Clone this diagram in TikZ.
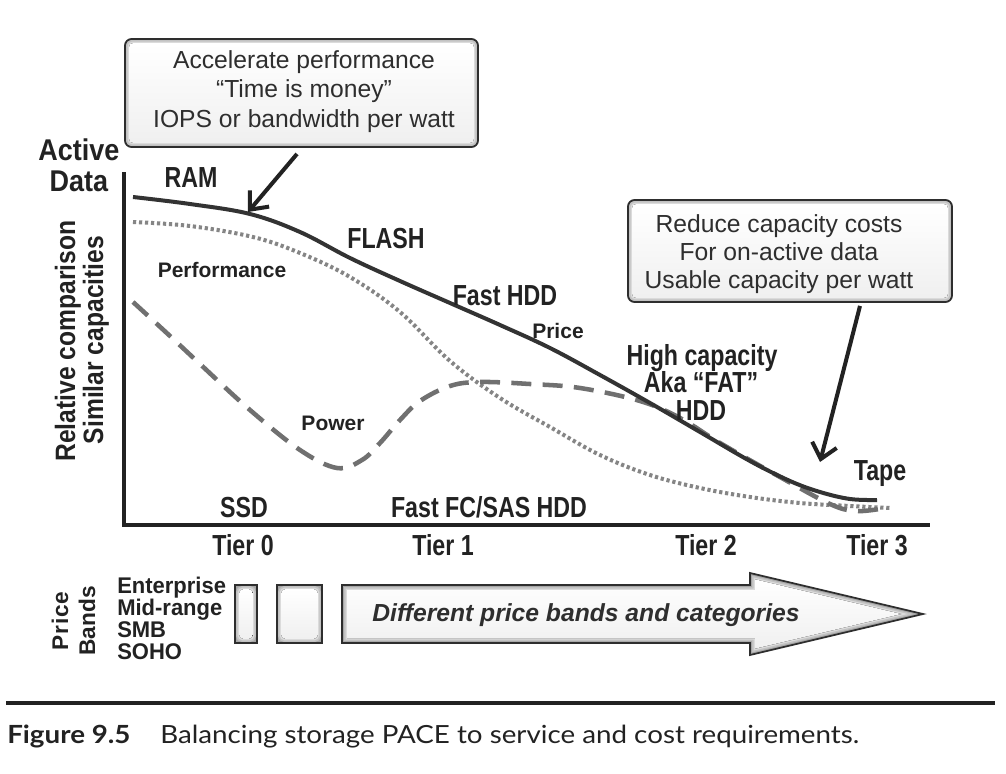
\documentclass[tikz,border=0pt]{standalone}
\usepackage{fontspec}
\usetikzlibrary{arrows.meta,calc}
\setmainfont{Liberation Sans}
\newfontfamily\condf[FakeStretch=0.8]{Liberation Sans}
\newfontfamily\actf[FakeStretch=0.9]{Liberation Sans}
\newfontfamily\relf[FakeStretch=0.88]{Liberation Sans}
\newfontfamily\bandf[FakeStretch=0.97]{Liberation Sans}
\newfontfamily\spf[LetterSpace=4]{Liberation Sans}
\newfontfamily\capf[FakeStretch=1.11]{Lato}
\definecolor{ink}{HTML}{222222}
\definecolor{boxink}{HTML}{2E2E2E}
\definecolor{curveS}{HTML}{333333}
\definecolor{curveD}{HTML}{707070}
\definecolor{curveP}{HTML}{858585}
\newcommand\bevelit[1]{%
  \fill[gray!48, rounded corners=4pt] ([shift={(2,-2)}]#1.south west) rectangle ([shift={(-2,2)}]#1.north east);
  \fill[gray!28, rounded corners=3.5pt] ([shift={(3.5,-3.5)}]#1.south west) rectangle ([shift={(-3.5,3.5)}]#1.north east);
  \fill[top color=white, bottom color=gray!12, rounded corners=3pt] ([shift={(5,-5)}]#1.south west) rectangle ([shift={(-5,5)}]#1.north east);}
\tikzset{
  lbl/.style={font=\condf\bfseries\fontsize{21.75}{24}\selectfont, text=ink, inner sep=0pt, anchor=base},
  sml/.style={font=\bfseries\fontsize{15.75}{18}\selectfont, text=ink, inner sep=0pt, anchor=base},
  band/.style={font=\bandf\bfseries\fontsize{17}{19}\selectfont, text=ink, inner sep=0pt, anchor=base west, text height=12pt, text depth=1pt},
  btxt/.style={font=\fontsize{18.5}{21}\selectfont, text=boxink, inner sep=0pt, anchor=base},
  frame/.style={draw=boxink, line width=1.4pt, fill=gray!70, rounded corners=5pt, inner sep=0pt},
  bar/.style={draw=boxink, line width=1.2pt, fill=gray!70, inner sep=0pt},
  arr/.style={draw=ink, line width=3pt, -{Straight Barb[length=11pt,width=19pt]}},
  price/.style={draw=curveS, line width=3pt},
  perf/.style={draw=curveP, line width=3pt, dash pattern=on 2.4pt off 2.1pt},
  power/.style={draw=curveD, line width=3.4pt, dash pattern=on 15pt off 8.5pt},
  arrowpoly/.style={insert path={(342+#1,585+#1) -- (750+#1,585+#1) -- (750+#1,573+1.265*#1) -- (923-4.34*#1,614) -- (750+#1,655-1.265*#1) -- (750+#1,643-#1) -- (342+#1,643-#1) -- cycle}}
}
\begin{document}
\begin{tikzpicture}[x=0.75pt,y=-0.75pt]
\useasboundingbox (0,0) rectangle (1006,774);
\fill[white] (0,0) rectangle (1006,774);

% axes
\coordinate (ytop) at (124,172);
\coordinate (orig) at (124,525);
\coordinate (xend) at (930,525);
\draw[ink, line width=2.4pt] (ytop) -- (orig) -- (xend);

% curves
\draw[perf] plot[smooth, tension=0.6] coordinates {(133,222) (190,226) (253,237) (300,253) (350,277) (400,312) (450,361) (500,398) (550,427) (600,455) (650,475) (700,488) (750,497) (800,503) (850,506) (890,508)};
\draw[power] plot[smooth, tension=0.6] coordinates {(133,302) (170,336) (200,364) (250,410) (300,450) (337,468) (362,460) (380,443) (400,420) (420,401) (450,386) (480,382) (530,384) (580,388) (640,401) (680,418) (720,443) (780,477) (830,504) (855,511) (879,509)};
\draw[price] plot[smooth, tension=0.6] coordinates {(133,197) (190,204) (250,214) (300,232) (350,258) (400,281) (450,303) (500,325) (550,348) (600,375) (650,403) (700,432) (750,461) (790,481) (820,492) (850,499) (877,500)};

% box A
\node[frame, minimum width=264.75pt, minimum height=81pt] (boxA) at (301.5,93) {};
\bevelit{boxA}
\node[btxt] (a1) at (304,69) {Accelerate performance};
\node[btxt] (a2) at (304,98) {“Time is money”};
\node[btxt] (a3) at (304,127) {IOPS or bandwidth per watt};

% box B
\node[frame, minimum width=243pt, minimum height=76.5pt] (boxB) at (790,251) {};
\bevelit{boxB}
\node[btxt] (b1) at (779,232) {Reduce capacity costs};
\node[btxt] (b2) at (779,260) {For on-active data};
\node[btxt] (b3) at (779,288) {Usable capacity per watt};

% arrows
\coordinate (tipA) at (248,212);
\coordinate (tipB) at (820,462);
\draw[arr] ([shift={(-4.5,6)}]boxA.south) -- (tipA);
\draw[arr] ([shift={(70,3)}]boxB.south) -- (tipB);

% axis labels
\node[font=\actf\bfseries\fontsize{22.5}{24}\selectfont, text=ink, inner sep=0pt, anchor=base] (act) at (79,160) {Active};
\node[font=\actf\bfseries\fontsize{22.5}{24}\selectfont, text=ink, inner sep=0pt, anchor=base] (dat) at (79,191) {Data};
\node[font=\relf\bfseries\fontsize{21}{24}\selectfont, text=ink, inner sep=0pt, anchor=base, rotate=90] (rel) at (75,341) {Relative comparison};
\node[font=\relf\bfseries\fontsize{21}{24}\selectfont, text=ink, inner sep=0pt, anchor=base, rotate=90] (sim) at (103,340) {Similar capacities};

% curve labels
\node[lbl] (ram) at (191,187) {RAM};
\node[lbl] (flash) at (386,248) {FLASH};
\node[lbl] (fhdd) at (505,305) {Fast HDD};
\node[sml] (pri) at (558,338) {Price};
\node[sml] (perfl) at (222,277) {Performance};
\node[sml] (pow) at (333,430) {Power};
\node[lbl] (hc1) at (702,365) {High capacity};
\node[lbl] (hc2) at (701,392) {Aka “FAT”};
\node[lbl] (hc3) at (701,420) {HDD};
\node[lbl] (tape) at (880,480) {Tape};
\node[lbl] (ssd) at (244,517) {SSD};
\node[lbl] (fcsas) at (489,517) {Fast FC/SAS HDD};
\node[lbl] (t0) at (243,555) {Tier 0};
\node[lbl] (t1) at (443,555) {Tier 1};
\node[lbl] (t2) at (706,555) {Tier 2};
\node[lbl] (t3) at (877,555) {Tier 3};

% price bands
\node[font=\spf\bfseries\fontsize{17}{18}\selectfont, text=ink, inner sep=0pt, anchor=base, rotate=90] (pb1) at (68,621) {Price};
\node[font=\bfseries\fontsize{17}{18}\selectfont, text=ink, inner sep=0pt, anchor=base, rotate=90] (pb2) at (95,621) {Bands};
\node[band] (ent) at (117,593) {Enterprise};
\node[band] (mid) at (117,615) {Mid-range};
\node[band] (smb) at (117,637) {SMB};
\node[band] (soho) at (117,659) {SOHO};

\node[bar, minimum width=16.5pt, minimum height=43.5pt] (bar1) at (246,614) {};
\bevelit{bar1}
\node[bar, minimum width=33.75pt, minimum height=43.5pt] (bar2) at (299.5,614) {};
\bevelit{bar2}

\draw[draw=boxink, line width=1.3pt, fill=gray!70, arrowpoly=0];
\fill[gray!48, arrowpoly=2];
\fill[gray!28, arrowpoly=3.5];
\fill[top color=white, bottom color=gray!12, arrowpoly=5];
\node[font=\bfseries\itshape\fontsize{18.5}{21}\selectfont, text=boxink, inner sep=0pt, anchor=base] (bigt) at (586,621) {Different price bands and categories};

% caption
\coordinate (rl) at (6,703);
\coordinate (rr) at (995,703);
\draw[ink, line width=2.6pt] (rl) -- (rr);
\node[font=\capf\bfseries\fontsize{18.75}{22}\selectfont, text=ink, inner sep=0pt, anchor=base west] (fig) at (7,743) {Figure 9.5};
\node[font=\capf\fontsize{18.75}{22}\selectfont, text=ink, inner sep=0pt, anchor=base west] (cap) at (160,743) {Balancing storage PACE to service and cost requirements.};
\end{tikzpicture}
\end{document}
